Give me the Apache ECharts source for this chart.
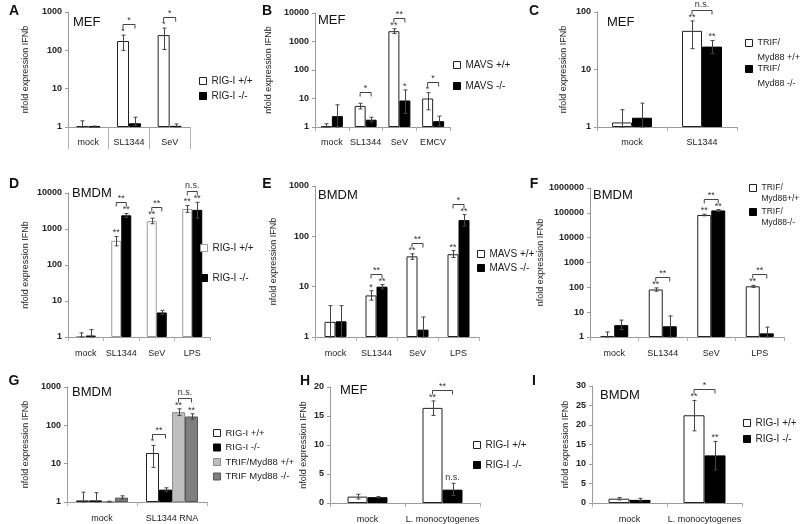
<!DOCTYPE html>
<html><head><meta charset="utf-8">
<script src="https://cdn.jsdelivr.net/npm/echarts@6/dist/echarts.min.js"></script>
<style>html,body{margin:0;padding:0;background:#fff}#c{width:800px;height:524px}</style>
</head><body><div id="c"></div>
<script>
// ================= DATA =================
// Panel A (MEF, RIG-I)
const A_cats = ['mock', 'SL1344', 'SeV'];
const A_wt = [1.05, 175, 250];
const A_wtErr = [[1, 1.45], [100, 250], [105, 380]];
const A_wtStars = ['', '*', '*'];
const A_ko = [1.03, 1.25, 1.07];
const A_koErr = [[1, 1.06], [1.1, 1.8], [1, 1.2]];
const A_koStars = ['', '', ''];
const A_brackets = [[1, 0, 1, '*'], [2, 0, 1, '*']];

// Panel B (MEF, MAVS)
const B_cats = ['mock', 'SL1344', 'SeV', 'EMCV'];
const B_wt = [1.05, 5.5, 2300, 10];
const B_wtErr = [[1, 1.3], [4.3, 6.8], [1900, 2800], [4, 16]];
const B_wtStars = ['', '', '**', '*'];
const B_ko = [2.4, 1.8, 8.5, 1.6];
const B_koErr = [[1, 6], [1.5, 2.2], [3, 20], [1.1, 2.4]];
const B_koStars = ['', '', '*', ''];
const B_brackets = [[1, 0, 1, '*'], [2, 0, 1, '**'], [3, 0, 1, '*']];

// Panel C (MEF, TRIF/Myd88)
const C_cats = ['mock', 'SL1344'];
const C_wt = [1.2, 47];
const C_wtErr = [[1, 2.0], [23, 70]];
const C_wtStars = ['', '**'];
const C_ko = [1.45, 25];
const C_koErr = [[1, 2.6], [19, 32]];
const C_koStars = ['', '**'];
const C_brackets = [[1, 0, 1, 'n.s.']];

// Panel D (BMDM, RIG-I)
const D_cats = ['mock', 'SL1344', 'SeV', 'LPS'];
const D_wt = [1.05, 470, 1650, 3600];
const D_wtErr = [[1, 1.3], [340, 620], [1400, 2000], [2900, 4500]];
const D_wtStars = ['', '**', '**', '**'];
const D_ko = [1.1, 2400, 4.8, 3400];
const D_koErr = [[1, 1.6], [2100, 2700], [4.2, 5.5], [2000, 5500]];
const D_koStars = ['', '**', '', '**'];
const D_brackets = [[1, 0, 1, '**'], [2, 0, 1, '**'], [3, 0, 1, 'n.s.']];

// Panel E (BMDM, MAVS)
const E_cats = ['mock', 'SL1344', 'SeV', 'LPS'];
const E_wt = [2.0, 6.7, 40, 44];
const E_wtErr = [[1, 4.2], [5.4, 8.3], [35, 45], [38, 52]];
const E_wtStars = ['', '*', '**', '**'];
const E_ko = [2.05, 10, 1.4, 210];
const E_koErr = [[1, 4.2], [9, 11], [1, 2.5], [160, 270]];
const E_koStars = ['', '**', '', '**'];
const E_brackets = [[1, 0, 1, '**'], [2, 0, 1, '**'], [3, 0, 1, '*']];

// Panel F (BMDM, TRIF/Myd88)
const F_cats = ['mock', 'SL1344', 'SeV', 'LPS'];
const F_wt = [1.1, 82, 82000, 110];
const F_wtErr = [[1, 1.6], [70, 95], [76000, 88000], [100, 120]];
const F_wtStars = ['', '**', '**', '**'];
const F_ko = [3.0, 2.7, 125000, 1.4];
const F_koErr = [[2, 4.8], [1, 7], [115000, 135000], [1, 2.5]];
const F_koStars = ['', '', '**', ''];
const F_brackets = [[1, 0, 1, '**'], [2, 0, 1, '**'], [3, 0, 1, '**']];

// Panel G (BMDM, SL1344 RNA)
const G_cats = ['mock', 'SL1344 RNA'];
const G_rigWt = [1.1, 19];
const G_rigWtErr = [[1, 1.8], [8, 30]];
const G_rigWtStars = ['', '*'];
const G_rigKo = [1.1, 2.1];
const G_rigKoErr = [[1, 1.75], [1.9, 2.35]];
const G_rigKoStars = ['', ''];
const G_trifWt = [1.02, 220];
const G_trifWtErr = [[1, 1.05], [180, 270]];
const G_trifWtStars = ['', '**'];
const G_trifKo = [1.3, 170];
const G_trifKoErr = [[1.2, 1.45], [145, 200]];
const G_trifKoStars = ['', '**'];
const G_brackets = [[1, 0, 1, '**'], [1, 2, 3, 'n.s.']];

// Panel H (MEF, L. monocytogenes)
const H_cats = ['mock', 'L. monocytogenes'];
const H_wt = [1.1, 16.4];
const H_wtErr = [[0.7, 1.5], [15.1, 17.6]];
const H_wtStars = ['', '**'];
const H_ko = [1.0, 2.3];
const H_koErr = [[0.9, 1.1], [1.3, 3.4]];
const H_koStars = ['', 'n.s.'];
const H_brackets = [[1, 0, 1, '**']];

// Panel I (BMDM, L. monocytogenes)
const I_cats = ['mock', 'L. monocytogenes'];
const I_wt = [1.1, 22.5];
const I_wtErr = [[0.8, 1.4], [18.5, 26.3]];
const I_wtStars = ['', '**'];
const I_ko = [0.8, 12.2];
const I_koErr = [[0.5, 1.2], [8.5, 15.8]];
const I_koStars = ['', '**'];
const I_brackets = [[1, 0, 1, '*']];

// ================= STYLE / LAYOUT =================
const FONT = 'Liberation Sans, Arial, sans-serif';
const WHITE = { color: '#ffffff', borderColor: '#222', borderWidth: 1 };
const WHITE_LIGHT = { color: '#ffffff', borderColor: '#9a9a9a', borderWidth: 1 };
const BLACK = { color: '#000000', borderColor: '#000', borderWidth: 1 };
const LGRAY = { color: '#bfbfbf', borderColor: '#8c8c8c', borderWidth: 1 };
const DGRAY = { color: '#7f7f7f', borderColor: '#555', borderWidth: 1 };

const panels = [
  { letter: 'A', letterXY: [14, 11], title: 'MEF', titleXY: [73, 22],
    grid: { left: 68, top: 12, width: 122, height: 115 }, cats: A_cats, log: true, min: 1, max: 1000,
    barWidth: 12, tickLen: 22, nameGap: 38, labelMargin: 11,
    series: [ { name: 'RIG-I +/+', data: A_wt, err: A_wtErr, stars: A_wtStars, style: WHITE },
              { name: 'RIG-I -/-', data: A_ko, err: A_koErr, stars: A_koStars, style: BLACK } ],
    brackets: A_brackets, legend: { left: 199, cy: 81, spacing: 15 } },
  { letter: 'B', letterXY: [267, 11], title: 'MEF', titleXY: [318, 20],
    grid: { left: 315, top: 13, width: 135, height: 114 }, cats: B_cats, log: true, min: 1, max: 10000,
    barWidth: 11, tickLen: 4, nameGap: 42, labelMargin: 11,
    series: [ { name: 'MAVS +/+', data: B_wt, err: B_wtErr, stars: B_wtStars, style: WHITE },
              { name: 'MAVS -/-', data: B_ko, err: B_koErr, stars: B_koStars, style: BLACK } ],
    brackets: B_brackets, legend: { left: 453, cy: 65, spacing: 21 } },
  { letter: 'C', letterXY: [534, 11], title: 'MEF', titleXY: [607, 22],
    grid: { left: 597, top: 12, width: 140, height: 115 }, cats: C_cats, log: true, min: 1, max: 100,
    barWidth: 20, tickLen: 4, nameGap: 29, labelMargin: 11,
    series: [ { name: 'TRIF/\nMyd88 +/+', data: C_wt, err: C_wtErr, stars: C_wtStars, style: WHITE },
              { name: 'TRIF/\nMyd88 -/-', data: C_ko, err: C_koErr, stars: C_koStars, style: BLACK } ],
    brackets: C_brackets, legend: { left: 745, cy: 43, spacing: 26, lineH: 15, fontSize: 9 } },
  { letter: 'D', letterXY: [14, 184], title: 'BMDM', titleXY: [72, 193],
    grid: { left: 68, top: 193, width: 142, height: 144 }, cats: D_cats, log: true, min: 1, max: 10000,
    barWidth: 10, tickLen: 4, nameGap: 38, labelMargin: 12,
    series: [ { name: 'RIG-I +/+', data: D_wt, err: D_wtErr, stars: D_wtStars, style: WHITE_LIGHT },
              { name: 'RIG-I -/-', data: D_ko, err: D_koErr, stars: D_koStars, style: BLACK } ],
    brackets: D_brackets, legend: { left: 200, cy: 248, spacing: 30 } },
  { letter: 'E', letterXY: [267, 184], title: 'BMDM', titleXY: [318, 195],
    grid: { left: 315, top: 186, width: 164, height: 151 }, cats: E_cats, log: true, min: 1, max: 1000,
    barWidth: 11, tickLen: 4, nameGap: 37, labelMargin: 12,
    series: [ { name: 'MAVS +/+', data: E_wt, err: E_wtErr, stars: E_wtStars, style: WHITE },
              { name: 'MAVS -/-', data: E_ko, err: E_koErr, stars: E_koStars, style: BLACK } ],
    brackets: E_brackets, legend: { left: 477, cy: 254, spacing: 14 } },
  { letter: 'F', letterXY: [534, 184], title: 'BMDM', titleXY: [593, 195],
    grid: { left: 590, top: 188, width: 194, height: 149 }, cats: F_cats, log: true, min: 1, max: 1000000,
    barWidth: 14, tickLen: 4, nameGap: 23, labelMargin: 12,
    series: [ { name: 'TRIF/\nMyd88+/+', data: F_wt, err: F_wtErr, stars: F_wtStars, style: WHITE },
              { name: 'TRIF/\nMyd88-/-', data: F_ko, err: F_koErr, stars: F_koStars, style: BLACK } ],
    brackets: F_brackets, legend: { left: 749, cy: 188, spacing: 24, lineH: 11, fontSize: 8.5 } },
  { letter: 'G', letterXY: [14, 381], title: 'BMDM', titleXY: [72, 392],
    grid: { left: 67, top: 387, width: 140, height: 115 }, cats: G_cats, log: true, min: 1, max: 1000,
    barWidth: 13, tickLen: 4, nameGap: 37, labelMargin: 12,
    series: [ { name: 'RIG-I +/+', data: G_rigWt, err: G_rigWtErr, stars: G_rigWtStars, style: WHITE },
              { name: 'RIG-I -/-', data: G_rigKo, err: G_rigKoErr, stars: G_rigKoStars, style: BLACK },
              { name: 'TRIF/Myd88 +/+', data: G_trifWt, err: G_trifWtErr, stars: G_trifWtStars, style: LGRAY },
              { name: 'TRIF Myd88 -/-', data: G_trifKo, err: G_trifKoErr, stars: G_trifKoStars, style: DGRAY } ],
    brackets: G_brackets, legend: { left: 213, cy: 433, spacing: 14.5, fontSize: 9.5 } },
  { letter: 'H', letterXY: [305, 381], title: 'MEF', titleXY: [340, 390],
    grid: { left: 330, top: 387, width: 150, height: 116 }, cats: H_cats, log: false, min: 0, max: 20, interval: 5,
    barWidth: 20, tickLen: 4, nameGap: 22, labelMargin: 12,
    series: [ { name: 'RIG-I +/+', data: H_wt, err: H_wtErr, stars: H_wtStars, style: WHITE },
              { name: 'RIG-I -/-', data: H_ko, err: H_koErr, stars: H_koStars, style: BLACK } ],
    brackets: H_brackets, legend: { left: 473, cy: 445, spacing: 20 } },
  { letter: 'I', letterXY: [534, 381], title: 'BMDM', titleXY: [600, 395],
    grid: { left: 592, top: 386, width: 150, height: 117 }, cats: I_cats, log: false, min: 0, max: 30, interval: 5,
    barWidth: 21, tickLen: 4, nameGap: 22, labelMargin: 12,
    series: [ { name: 'RIG-I +/+', data: I_wt, err: I_wtErr, stars: I_wtStars, style: WHITE },
              { name: 'RIG-I -/-', data: I_ko, err: I_koErr, stars: I_koStars, style: BLACK } ],
    brackets: I_brackets, legend: { left: 743, cy: 423, spacing: 16 } }
];

// ================= BUILD =================
const option = { animation: false, backgroundColor: '#fff', textStyle: { fontFamily: FONT },
  grid: [], xAxis: [], yAxis: [], series: [], legend: [], graphic: [] };

function starText(x, y, txt) {
  const isStar = txt.indexOf('*') >= 0;
  return { type: 'text', x: x, y: isStar ? y + 2 : y,
    style: { text: txt, fill: '#333', font: '9px ' + FONT, align: 'center', verticalAlign: 'bottom' } };
}

function overlay(p, gi) {
  return {
    type: 'custom', xAxisIndex: gi, yAxisIndex: gi, z: 5, silent: true, clip: false,
    data: p.cats.map((c, i) => [i, p.series[0].data[i]]),
    renderItem: function (params, api) {
      const ci = params.dataIndex;
      const n = p.series.length, bw = p.barWidth;
      const ch = [];
      const tops = [];
      const lineStyle = { stroke: '#444', lineWidth: 1 };
      p.series.forEach(function (s, k) {
        const cx = api.coord([ci, s.data[ci]])[0] + (k - (n - 1) / 2) * bw;
        const e = s.err[ci];
        const yHi = api.coord([ci, e[1]])[1];
        const yLo = api.coord([ci, Math.max(e[0], p.min)])[1];
        const x = Math.round(cx) + 0.5;
        ch.push({ type: 'line', shape: { x1: x, y1: yLo, x2: x, y2: yHi }, style: lineStyle });
        ch.push({ type: 'line', shape: { x1: x - 2, y1: yHi, x2: x + 2, y2: yHi }, style: lineStyle });
        ch.push({ type: 'line', shape: { x1: x - 2, y1: yLo, x2: x + 2, y2: yLo }, style: lineStyle });
        tops[k] = { x: cx, y: yHi };
        if (s.stars[ci]) ch.push(starText(cx, yHi - 1, s.stars[ci]));
      });
      p.brackets.forEach(function (b) {
        if (b[0] !== ci) return;
        const a = tops[b[1]], c = tops[b[2]];
        const y = Math.round(Math.min(a.y, c.y) - 11) + 0.5;
        ch.push({ type: 'polyline', shape: { points: [[a.x, y + 4], [a.x, y], [c.x, y], [c.x, y + 4]] },
          style: { stroke: '#444', lineWidth: 1, fill: null } });
        ch.push(starText((a.x + c.x) / 2, y - 1, b[3]));
      });
      return { type: 'group', children: ch };
    }
  };
}

panels.forEach(function (p, gi) {
  option.grid.push(Object.assign({ containLabel: false }, p.grid));
  option.xAxis.push({
    type: 'category', gridIndex: gi, data: p.cats,
    axisLine: { lineStyle: { color: '#9a9a9a' } },
    axisTick: { show: true, length: p.tickLen, lineStyle: { color: '#b0b0b0' } },
    axisLabel: { interval: 0, fontSize: 9, color: '#222', margin: p.labelMargin, fontFamily: FONT }
  });
  const y = {
    type: p.log ? 'log' : 'value', gridIndex: gi, min: p.min, max: p.max,
    name: 'nfold expression IFNb', nameLocation: 'middle', nameRotate: 90, nameGap: p.nameGap,
    nameTextStyle: { fontSize: 9, color: '#222', fontFamily: FONT },
    axisLine: { show: true, lineStyle: { color: '#9a9a9a' } },
    axisTick: { show: true, length: 3, lineStyle: { color: '#9a9a9a' } },
    splitLine: { show: false },
    axisLabel: { fontSize: 9, fontWeight: 'bold', color: '#222', margin: 6, fontFamily: FONT,
      formatter: function (v) { return String(Math.round(v)); } }
  };
  if (p.log) { y.logBase = 10; } else { y.interval = p.interval; }
  option.yAxis.push(y);
  p.series.forEach(function (s) {
    option.series.push({ type: 'bar', name: s.name, xAxisIndex: gi, yAxisIndex: gi,
      data: s.data, barWidth: p.barWidth, barGap: '0%', itemStyle: s.style, silent: true });
  });
  option.series.push(overlay(p, gi));
  const L = p.legend;
  const lg = { orient: 'vertical', left: L.left, padding: 0, itemWidth: 7, itemHeight: 7,
    icon: 'rect', selectedMode: false,
    data: p.series.map(s => ({ name: s.name, itemStyle: { color: s.style.color, borderColor: s.style.borderColor, borderWidth: 1 } })),
    textStyle: { fontSize: L.fontSize || 10, color: '#222', fontFamily: FONT } };
  if (L.lineH) {
    lg.top = L.cy - 1.5 * L.lineH;
    lg.itemGap = L.spacing - 3 * L.lineH;
    lg.textStyle.lineHeight = L.lineH;
    lg.formatter = function (name) { return ' \n' + name; };
  } else {
    lg.top = L.cy - 5;
    lg.itemGap = L.spacing - 10;
  }
  option.legend.push(lg);
  option.graphic.push({ type: 'text', x: p.letterXY[0], y: p.letterXY[1],
    style: { text: p.letter, font: 'bold 14px ' + FONT, fill: '#111', align: 'center', verticalAlign: 'middle' } });
  option.graphic.push({ type: 'text', x: p.titleXY[0], y: p.titleXY[1],
    style: { text: p.title, font: '13px ' + FONT, fill: '#111', align: 'left', verticalAlign: 'middle' } });
});

const chart = echarts.init(document.getElementById('c'), null, { renderer: 'canvas' });
chart.setOption(option);
</script>
</body></html>
